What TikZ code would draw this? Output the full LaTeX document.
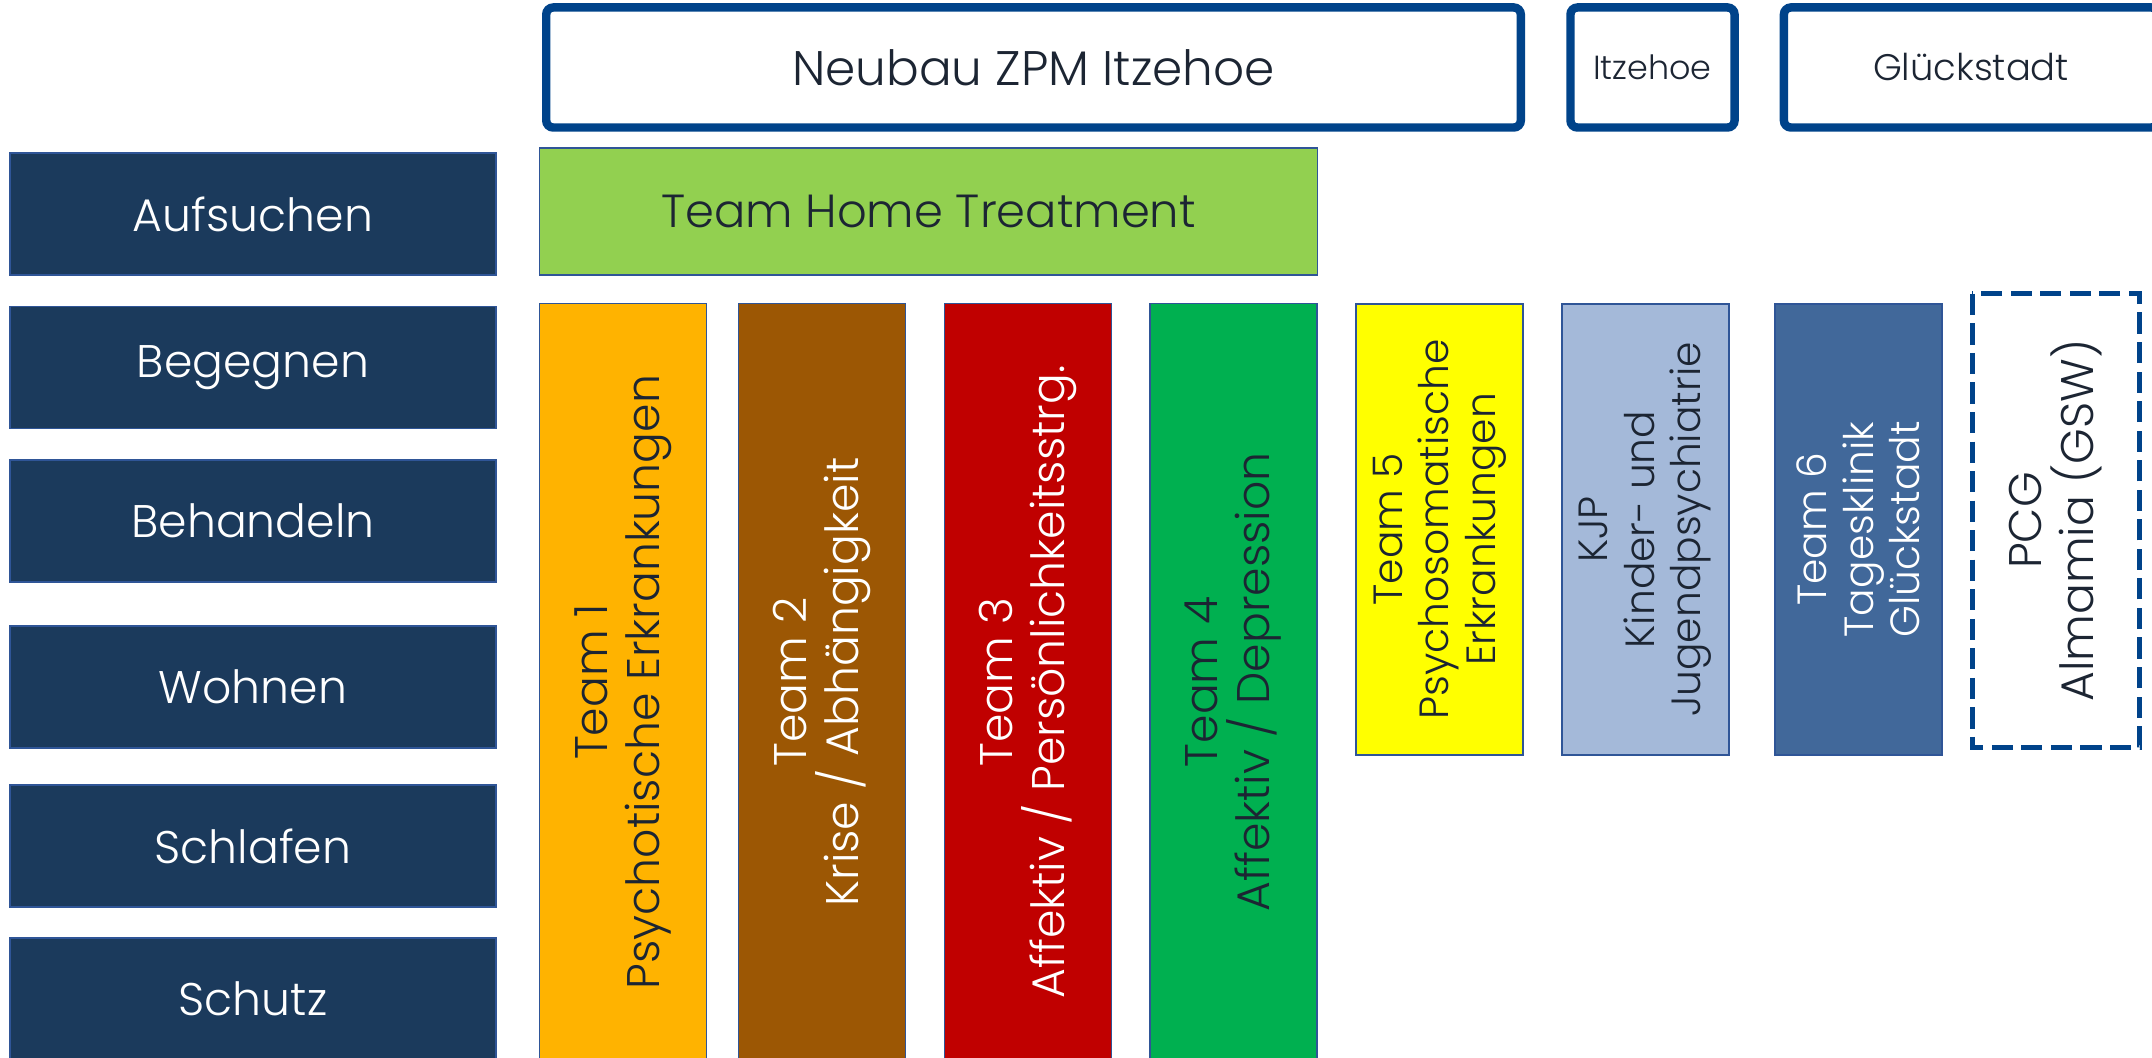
\documentclass[tikz,border=0pt]{standalone}
\usepackage{fontspec}
\IfFontExistsTF{Poppins Light}{\setmainfont{Poppins Light}}{\setmainfont{Poppins}}
\definecolor{zpNavy}{HTML}{1B3A5C}
\definecolor{zpLine}{HTML}{00438A}
\definecolor{zpThin}{HTML}{2F5597}
\definecolor{zpText}{HTML}{1C2533}
\definecolor{zpHome}{HTML}{92D050}
\definecolor{zpTeamA}{HTML}{FFB300}
\definecolor{zpTeamB}{HTML}{9C5704}
\definecolor{zpTeamC}{HTML}{C00000}
\definecolor{zpTeamD}{HTML}{00B050}
\definecolor{zpTeamE}{HTML}{FFFF00}
\definecolor{zpKJP}{HTML}{A4B9D9}
\definecolor{zpTeamF}{HTML}{41689A}
\usetikzlibrary{positioning}

\tikzset{
  rowbox/.style={fill=zpNavy, draw=zpThin, line width=0.4pt, text=white,
    minimum width=4.86cm, minimum height=1.22cm, inner sep=0pt,
    font=\fontsize{13}{15}\selectfont},
  sitebox/.style={draw=zpLine, line width=2.4pt, rounded corners=2pt,
    minimum height=1.2cm, inner sep=0pt, text=zpText},
  teamcol/.style={draw=zpThin, line width=0.4pt, rotate=90, minimum height=1.67cm,
    align=center, inner sep=0pt, font=\fontsize{13}{14.8}\selectfont},
  smallcol/.style={teamcol, font=\fontsize{11.6}{13.2}\selectfont},
}

\begin{document}
\begin{tikzpicture}[x=0.01cm, y=-0.01cm]
  \useasboundingbox (0,0) rectangle (2152,1058);

  % Standorte oben
  \node[sitebox, minimum width=9.74cm, font=\fontsize{13.8}{15}\selectfont] (neubau) at (1033.5,67.5) {Neubau ZPM Itzehoe};
  \node[sitebox, minimum width=1.64cm, font=\fontsize{9.5}{11}\selectfont] (itzehoe) at (1652.5,67.5) {Itzehoe};
  \node[sitebox, minimum width=3.74cm, font=\fontsize{10.5}{12}\selectfont] (glueck) at (1971,67.5) {Glückstadt};

  % Zeilen links
  \node[rowbox] (aufsuchen) at (253,214) {Aufsuchen};
  \node[rowbox] (begegnen) at (253,367.5) {Begegnen};
  \node[rowbox] (behandeln) at (253,521) {Behandeln};
  \node[rowbox] (wohnen) at (253,687) {Wohnen};
  \node[rowbox] (schlafen) at (253,846) {Schlafen};
  \node[rowbox] (schutz) at (253,999) {Schutz};

  % Home Treatment
  \node[fill=zpHome, draw=zpThin, line width=0.4pt, minimum width=7.77cm, minimum height=1.27cm,
    text=zpText, font=\fontsize{13.2}{15}\selectfont] (home) at (928.5,211.5) {Team Home Treatment};

  % Teams (Spalten)
  \node[teamcol, fill=zpTeamA, text=zpText, minimum width=7.56cm] (team1) at (623,682)
    {Team 1\\Psychotische Erkrankungen};
  \node[teamcol, fill=zpTeamB, text=white, minimum width=7.56cm] (team2) at (822,682)
    {Team 2\\Krise / Abhängigkeit};
  \node[teamcol, fill=zpTeamC, text=white, minimum width=7.56cm] (team3) at (1028,682)
    {Team 3\\Affektiv / Persönlichkeitsstrg.};
  \node[teamcol, fill=zpTeamD, text=zpText, minimum width=7.56cm] (team4) at (1233.5,682)
    {Team 4\\Affektiv / Depression};
  \node[smallcol, fill=zpTeamE, text=zpText, minimum width=4.51cm] (team5) at (1439.5,529.5)
    {Team 5\\Psychosomatische\\Erkrankungen};
  \node[smallcol, fill=zpKJP, text=zpText, minimum width=4.51cm] (kjp) at (1645.5,529.5)
    {KJP\\Kinder- und\\Jugendpsychiatrie};
  \node[smallcol, fill=zpTeamF, text=white, minimum width=4.51cm] (team6) at (1858.5,529.5)
    {Team 6\\Tagesklinik\\Glückstadt};
  \node[teamcol, draw=zpLine, line width=1.4pt, dash pattern=on 6pt off 2.4pt, fill=white,
    text=zpText, minimum width=4.53cm] (pcg) at (2056,520.5)
    {PCG\\Almamia (GSW)};
\end{tikzpicture}
\end{document}
